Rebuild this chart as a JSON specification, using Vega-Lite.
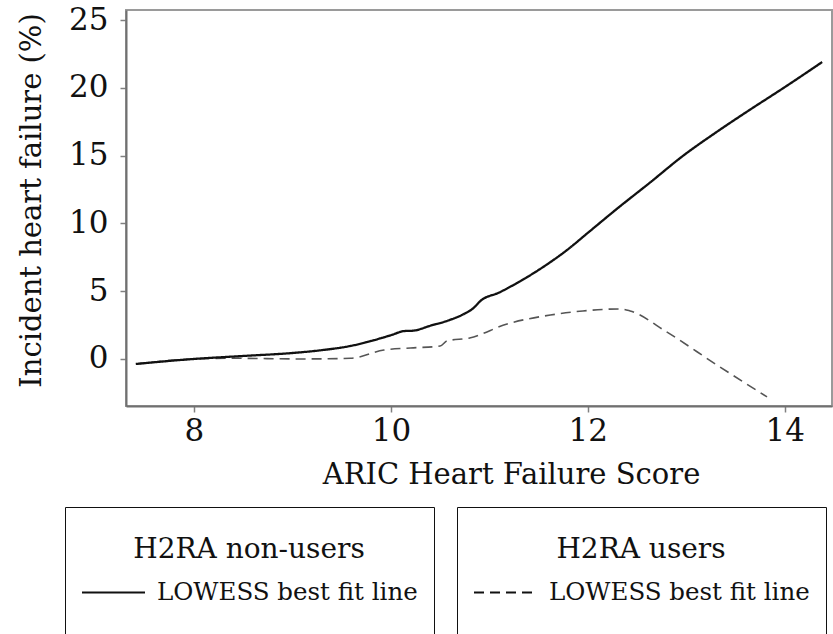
{
  "$schema": "https://vega.github.io/schema/vega-lite/v6.json",
  "autosize": {"type": "none"},
  "padding": {"left": 126, "top": 10, "right": 1, "bottom": 228},
  "width": 706,
  "height": 396,
  "background": "white",
  "config": {
    "font": "DejaVu Serif",
    "view": {"stroke": "#9a9a9a", "strokeWidth": 2},
    "axis": {
      "grid": false,
      "domainColor": "#707070",
      "domainWidth": 2,
      "tickColor": "#808080",
      "tickWidth": 1.5,
      "tickSize": 6,
      "labelFont": "DejaVu Serif",
      "labelFontSize": 31,
      "labelColor": "#111",
      "titleFont": "DejaVu Serif",
      "titleFontSize": 29,
      "titleFontWeight": "normal",
      "titleColor": "#111"
    },
    "legend": {
      "titleFont": "DejaVu Serif",
      "titleFontSize": 28,
      "titleFontWeight": "normal",
      "titleColor": "#111",
      "titleAnchor": "middle",
      "titleBaseline": "line-top",
      "titleLineHeight": 53,
      "titlePadding": 10,
      "titleLimit": 400,
      "labelFont": "DejaVu Serif",
      "labelFontSize": 24.5,
      "labelColor": "#111",
      "labelOffset": 11,
      "labelLimit": 400,
      "symbolType": "stroke",
      "symbolSize": 3969,
      "symbolStrokeWidth": 2,
      "symbolStrokeColor": "#111",
      "clipHeight": 63,
      "strokeColor": "#111",
      "padding": 16
    }
  },
  "data": {
    "values": [
      {"score": 7.41, "pct": -0.37, "group": "H2RA non-users", "fit": "LOWESS best fit line"},
      {"score": 8.0, "pct": 0.0, "group": "H2RA non-users", "fit": "LOWESS best fit line"},
      {"score": 8.5, "pct": 0.22, "group": "H2RA non-users", "fit": "LOWESS best fit line"},
      {"score": 9.0, "pct": 0.44, "group": "H2RA non-users", "fit": "LOWESS best fit line"},
      {"score": 9.3, "pct": 0.65, "group": "H2RA non-users", "fit": "LOWESS best fit line"},
      {"score": 9.59, "pct": 0.96, "group": "H2RA non-users", "fit": "LOWESS best fit line"},
      {"score": 9.8, "pct": 1.33, "group": "H2RA non-users", "fit": "LOWESS best fit line"},
      {"score": 10.0, "pct": 1.75, "group": "H2RA non-users", "fit": "LOWESS best fit line"},
      {"score": 10.14, "pct": 2.06, "group": "H2RA non-users", "fit": "LOWESS best fit line"},
      {"score": 10.22, "pct": 2.08, "group": "H2RA non-users", "fit": "LOWESS best fit line"},
      {"score": 10.4, "pct": 2.45, "group": "H2RA non-users", "fit": "LOWESS best fit line"},
      {"score": 10.6, "pct": 2.88, "group": "H2RA non-users", "fit": "LOWESS best fit line"},
      {"score": 10.75, "pct": 3.35, "group": "H2RA non-users", "fit": "LOWESS best fit line"},
      {"score": 10.84, "pct": 3.76, "group": "H2RA non-users", "fit": "LOWESS best fit line"},
      {"score": 10.91, "pct": 4.28, "group": "H2RA non-users", "fit": "LOWESS best fit line"},
      {"score": 11.1, "pct": 4.9, "group": "H2RA non-users", "fit": "LOWESS best fit line"},
      {"score": 11.28, "pct": 5.6, "group": "H2RA non-users", "fit": "LOWESS best fit line"},
      {"score": 11.55, "pct": 6.8, "group": "H2RA non-users", "fit": "LOWESS best fit line"},
      {"score": 11.79, "pct": 8.04, "group": "H2RA non-users", "fit": "LOWESS best fit line"},
      {"score": 12.0, "pct": 9.3, "group": "H2RA non-users", "fit": "LOWESS best fit line"},
      {"score": 12.3, "pct": 11.1, "group": "H2RA non-users", "fit": "LOWESS best fit line"},
      {"score": 12.63, "pct": 13.0, "group": "H2RA non-users", "fit": "LOWESS best fit line"},
      {"score": 12.97, "pct": 15.0, "group": "H2RA non-users", "fit": "LOWESS best fit line"},
      {"score": 13.31, "pct": 16.75, "group": "H2RA non-users", "fit": "LOWESS best fit line"},
      {"score": 13.65, "pct": 18.4, "group": "H2RA non-users", "fit": "LOWESS best fit line"},
      {"score": 13.99, "pct": 20.0, "group": "H2RA non-users", "fit": "LOWESS best fit line"},
      {"score": 14.38, "pct": 21.9, "group": "H2RA non-users", "fit": "LOWESS best fit line"},
      {"score": 7.41, "pct": -0.37, "group": "H2RA users", "fit": "LOWESS best fit line"},
      {"score": 8.0, "pct": 0.0, "group": "H2RA users", "fit": "LOWESS best fit line"},
      {"score": 8.4, "pct": 0.05, "group": "H2RA users", "fit": "LOWESS best fit line"},
      {"score": 9.08, "pct": 0.0, "group": "H2RA users", "fit": "LOWESS best fit line"},
      {"score": 9.59, "pct": 0.05, "group": "H2RA users", "fit": "LOWESS best fit line"},
      {"score": 9.93, "pct": 0.66, "group": "H2RA users", "fit": "LOWESS best fit line"},
      {"score": 10.2, "pct": 0.81, "group": "H2RA users", "fit": "LOWESS best fit line"},
      {"score": 10.5, "pct": 0.95, "group": "H2RA users", "fit": "LOWESS best fit line"},
      {"score": 10.57, "pct": 1.33, "group": "H2RA users", "fit": "LOWESS best fit line"},
      {"score": 10.8, "pct": 1.55, "group": "H2RA users", "fit": "LOWESS best fit line"},
      {"score": 11.18, "pct": 2.58, "group": "H2RA users", "fit": "LOWESS best fit line"},
      {"score": 11.62, "pct": 3.24, "group": "H2RA users", "fit": "LOWESS best fit line"},
      {"score": 11.95, "pct": 3.54, "group": "H2RA users", "fit": "LOWESS best fit line"},
      {"score": 12.33, "pct": 3.69, "group": "H2RA users", "fit": "LOWESS best fit line"},
      {"score": 12.43, "pct": 3.54, "group": "H2RA users", "fit": "LOWESS best fit line"},
      {"score": 12.8, "pct": 2.0, "group": "H2RA users", "fit": "LOWESS best fit line"},
      {"score": 13.31, "pct": -0.44, "group": "H2RA users", "fit": "LOWESS best fit line"},
      {"score": 13.82, "pct": -2.8, "group": "H2RA users", "fit": "LOWESS best fit line"}
    ]
  },
  "encoding": {
    "x": {
      "field": "score",
      "type": "quantitative",
      "title": "ARIC Heart Failure Score",
      "scale": {"domain": [7.31, 14.48], "nice": false, "zero": false},
      "axis": {"values": [8, 10, 12, 14], "labelPadding": 4, "titlePadding": 14, "titleX": 385}
    },
    "y": {
      "field": "pct",
      "type": "quantitative",
      "title": "Incident heart failure (%)",
      "scale": {"domain": [-3.47, 25.74], "nice": false, "zero": false},
      "axis": {"values": [0, 5, 10, 15, 20, 25], "labelPadding": 12, "titlePadding": 22, "titleY": 190}
    }
  },
  "layer": [
    {
      "transform": [{"filter": "datum.group === 'H2RA users'"}],
      "mark": {"type": "line", "color": "#555", "strokeWidth": 1.6, "interpolate": "monotone", "clip": true},
      "encoding": {
        "strokeDash": {
          "field": "fit",
          "type": "nominal",
          "scale": {"domain": ["LOWESS best fit line"], "range": [[10, 6]]},
          "legend": {"title": "H2RA users", "orient": "none", "legendX": 331, "legendY": 497, "symbolDash": [10, 6]}
        }
      }
    },
    {
      "transform": [{"filter": "datum.group === 'H2RA non-users'"}],
      "mark": {"type": "line", "color": "#111", "strokeWidth": 2.3, "interpolate": "monotone"},
      "encoding": {
        "strokeDash": {
          "field": "fit",
          "type": "nominal",
          "scale": {"domain": ["LOWESS best fit line"], "range": [[1, 0]]},
          "legend": {"title": "H2RA non-users", "orient": "none", "legendX": -61, "legendY": 497}
        }
      }
    }
  ],
  "resolve": {"scale": {"strokeDash": "independent"}, "legend": {"strokeDash": "independent"}}
}
